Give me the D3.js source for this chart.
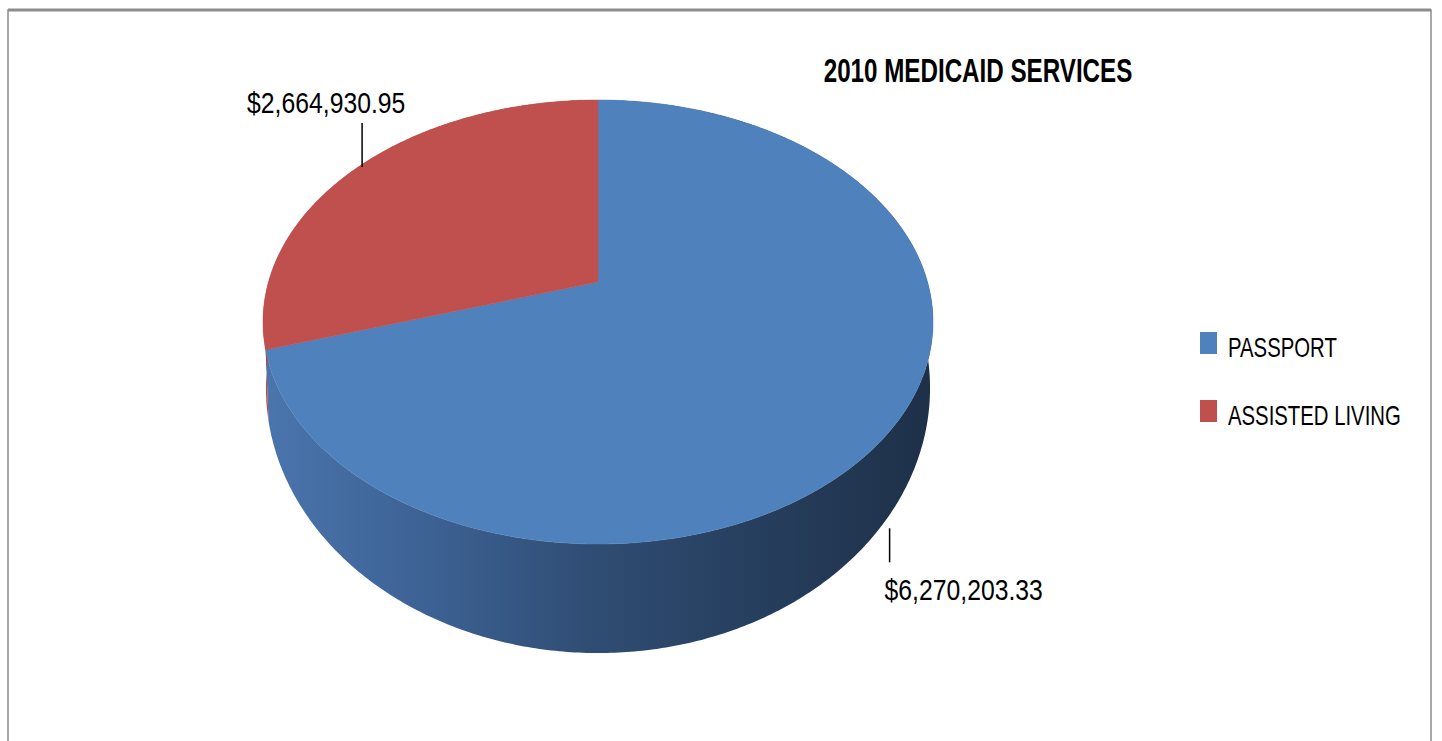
<!DOCTYPE html>
<html>
<head>
<meta charset="utf-8">
<script src="https://cdn.jsdelivr.net/npm/d3@7"></script>
<style>
  html, body { margin: 0; padding: 0; background: #fff; }
  svg { display: block; }
  text { font-family: "Liberation Sans", Arial, sans-serif; fill: #000; }
</style>
</head>
<body>
<svg id="chart" width="1442" height="741"></svg>
<script>
// ---- data ----
const categories = ["PASSPORT", "ASSISTED LIVING"];
const values = [6270203.33, 2664930.95];
const valueLabels = ["$6,270,203.33", "$2,664,930.95"];
const title = "2010 MEDICAID SERVICES";
const topColors = ["#4f81bd", "#c0504d"];

// ---- geometry of the tilted pie (perspective homography) ----
const CX = 598;
const E = 0.1802;                 // perspective strength
const TOP = { a: 329.5, cy: 282, k: 214.8 };
const BOT = { a: 326.6, cy: 340.3, k: 256.4 };
function proj(P, t) {
  const u = Math.sin(t), v = -Math.cos(t), w = 1 - E * v;
  return [CX + P.a * u / w, P.cy + P.k * v / w];
}

const svg = d3.select("#chart");
const defs = svg.append("defs");

function grad(id, stops) {
  const g = defs.append("linearGradient").attr("id", id)
    .attr("gradientUnits", "userSpaceOnUse")
    .attr("x1", 265).attr("x2", 932).attr("y1", 0).attr("y2", 0);
  stops.forEach(([o, c]) => g.append("stop").attr("offset", o).attr("stop-color", c));
}
grad("sideBlue", [[0, "#4a75ad"], [0.25, "#3c6193"], [0.5, "#2f4c72"], [0.75, "#263e5d"], [1, "#1e3048"]]);
grad("sideRed", [[0, "#b04845"], [0.5, "#8a3634"], [1, "#5e2423"]]);
const sideFills = ["url(#sideBlue)", "url(#sideRed)"];

// frame
svg.append("path")
  .attr("d", "M8,741 L8,10 L1431,10 L1431,741")
  .attr("fill", "none").attr("stroke", "#8c8c8c").attr("stroke-width", 1.5);
svg.append("line").attr("x1", 8).attr("x2", 1431).attr("y1", 10).attr("y2", 10)
  .attr("stroke", "#8c8c8c").attr("stroke-width", 3);

const pie = d3.pie().sort(null).value(d => d)(values);

function arcPts(P, a0, a1) {
  const n = Math.max(2, Math.ceil(Math.abs(a1 - a0) / 0.01));
  return d3.range(n + 1).map(i => proj(P, a0 + (a1 - a0) * i / n));
}
const line = d3.line();

// sides
pie.forEach((s, i) => {
  const pts = arcPts(TOP, s.startAngle, s.endAngle)
    .concat(arcPts(BOT, s.endAngle, s.startAngle));
  svg.append("path").attr("d", line(pts) + "Z")
    .attr("fill", sideFills[i]).attr("stroke", "none");
});
// tops
pie.forEach((s, i) => {
  const pts = [[CX, TOP.cy]].concat(arcPts(TOP, s.startAngle, s.endAngle));
  svg.append("path").attr("d", line(pts) + "Z")
    .attr("fill", topColors[i]).attr("stroke", topColors[i]).attr("stroke-width", 0.5);
});

// condensed-looking text (Calibri-like narrow face emulated by horizontal scaling)
function scaledText(x, y, str, size, weight, anchor, sx) {
  const g = svg.append("g").attr("transform", `translate(${x},${y}) scale(${sx},1.1)`);
  g.append("text").attr("x", 0).attr("y", 0)
    .attr("font-size", size).attr("font-weight", weight || "normal")
    .attr("text-anchor", anchor || "start").text(str);
}
pie.forEach((s, i) => {
  const mid = (s.startAngle + s.endAngle) / 2;
  const front = -Math.cos(mid) > 0;
  if (front) {
    const p = proj(BOT, mid);
    svg.append("line").attr("x1", p[0] - 3).attr("x2", p[0] - 3)
      .attr("y1", p[1] + 18).attr("y2", p[1] + 52)
      .attr("stroke", "#000").attr("stroke-width", 1.5);
    scaledText(p[0] - 8, p[1] + 90, valueLabels[i], 27.5, "normal", "start", 0.9);
  } else {
    const p = proj(TOP, mid);
    svg.append("line").attr("x1", p[0] + 4).attr("x2", p[0] + 4)
      .attr("y1", p[1]).attr("y2", p[1] - 44)
      .attr("stroke", "#000").attr("stroke-width", 1.5);
    scaledText(p[0] - 111, p[1] - 54, valueLabels[i], 27.5, "normal", "start", 0.9);
  }
});

// title
scaledText(978, 82, title, 29.5, "bold", "middle", 0.82);

// legend
categories.forEach((c, i) => {
  const y = 332 + i * 68;
  svg.append("rect").attr("x", 1200).attr("y", y).attr("width", 17).attr("height", 22)
    .attr("fill", topColors[i]);
  scaledText(1228, y + 25, c, 24.5, "normal", "start", 0.83);
});
</script>
</body>
</html>
